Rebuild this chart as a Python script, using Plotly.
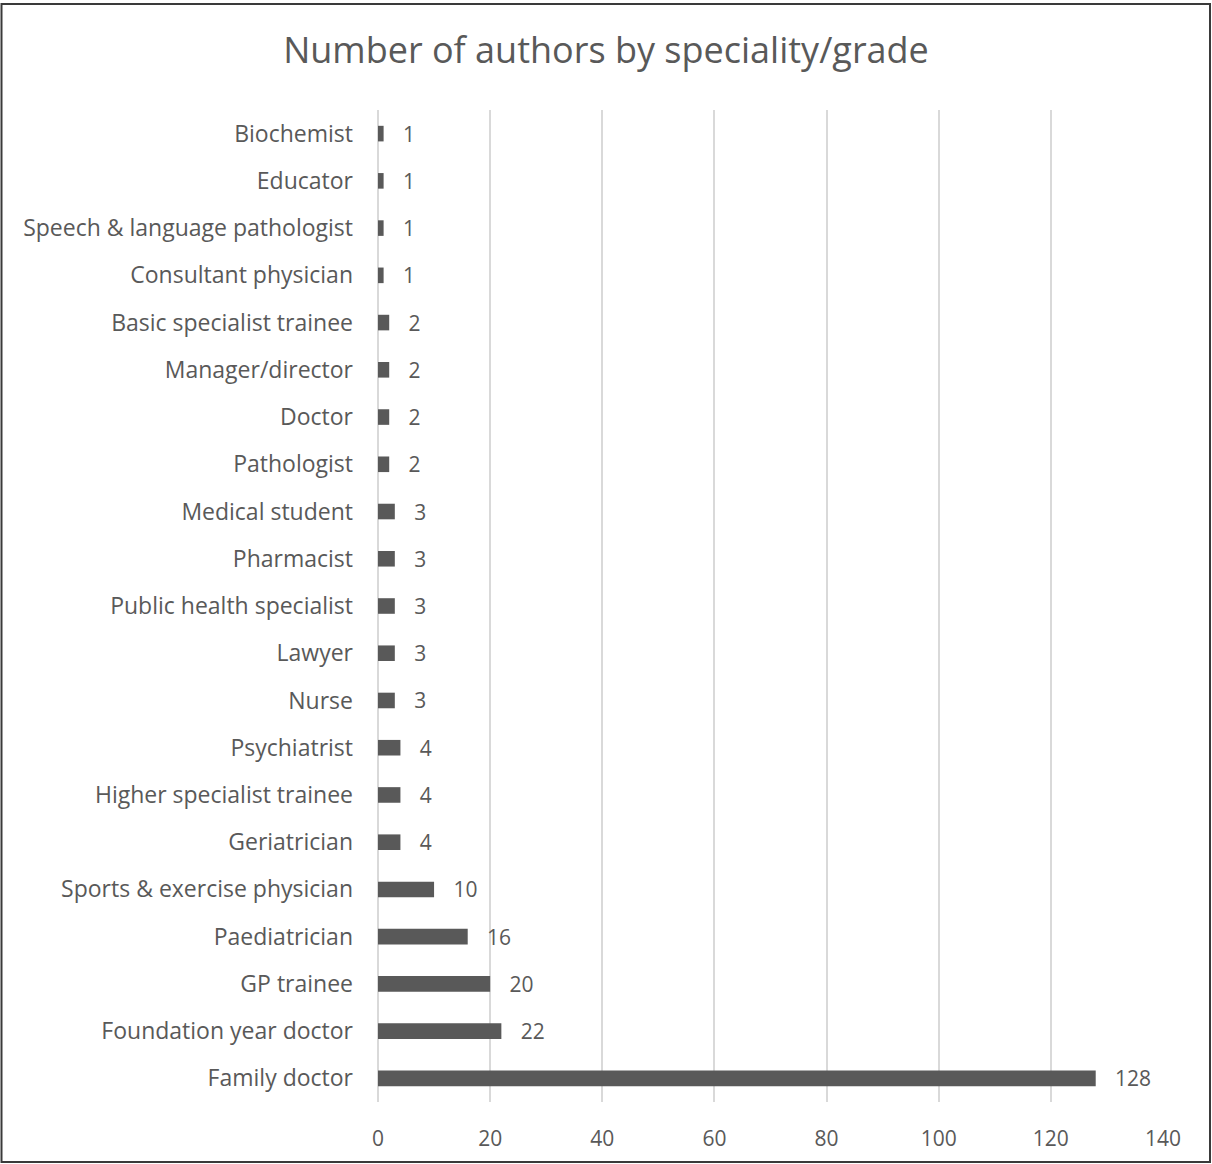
import plotly.graph_objects as go

# categories listed bottom to top (as drawn)
specialities = [
    "Family doctor", "Foundation year doctor", "GP trainee", "Paediatrician",
    "Sports & exercise physician", "Geriatrician", "Higher specialist trainee",
    "Psychiatrist", "Nurse", "Lawyer", "Public health specialist", "Pharmacist",
    "Medical student", "Pathologist", "Doctor", "Manager/director",
    "Basic specialist trainee", "Consultant physician",
    "Speech & language pathologist", "Educator", "Biochemist",
]
authors = [128, 22, 20, 16, 10, 4, 4, 4, 3, 3, 3, 3, 3, 2, 2, 2, 2, 1, 1, 1, 1]
x_ticks = [0, 20, 40, 60, 80, 100, 120, 140]

W, H = 1212, 1164
L, R, T, B = 378, 49, 110, 62
pw, ph = W - L - R, H - T - B

FONT = "Open Sans, Calibri, sans-serif"
cat_font = dict(family=FONT, size=23, color="#595959")
num_font = dict(family=FONT, size=21, color="#595959")

fig = go.Figure()
fig.add_trace(go.Bar(
    x=authors, y=specialities, orientation="h",
    marker=dict(color="#595959", line_width=0),
    width=0.33,
    text=["   " + str(v) for v in authors],
    textposition="outside",
    constraintext="none",
    textfont=num_font,
    cliponaxis=False,
))

fig.update_layout(
    width=W, height=H,
    margin=dict(l=L, r=R, t=T, b=B),
    paper_bgcolor="white", plot_bgcolor="white",
    showlegend=False,
    title=dict(
        text="Number of authors by speciality/grade",
        font=dict(family=FONT, size=36, color="#595959"),
        x=0.5, xref="container", xanchor="center",
        y=1 - 50 / H, yanchor="middle",
    ),
    xaxis=dict(
        range=[0, 140], tickvals=x_ticks,
        showgrid=True, gridcolor="#d9d9d9", gridwidth=2,
        zeroline=True, zerolinecolor="#d9d9d9", zerolinewidth=2,
        showline=False, ticks="",
        tickfont=num_font, ticklabelstandoff=22,
    ),
    yaxis=dict(
        categoryorder="array", categoryarray=specialities,
        showgrid=False, showline=False, ticks="",
        tickfont=cat_font, ticklabelstandoff=24,
    ),
    shapes=[dict(
        type="rect", xref="paper", yref="paper",
        x0=(1.5 - L) / pw, x1=(W - 2 - L) / pw,
        y0=(T + ph - (H - 2)) / ph, y1=(T + ph - 4) / ph,
        line=dict(color="#3a3a3a", width=2),
        fillcolor="rgba(0,0,0,0)", layer="above",
    )],
)

fig.write_html("out.html", config={"displayModeBar": False},
               post_script="document.body.style.margin='0';")
